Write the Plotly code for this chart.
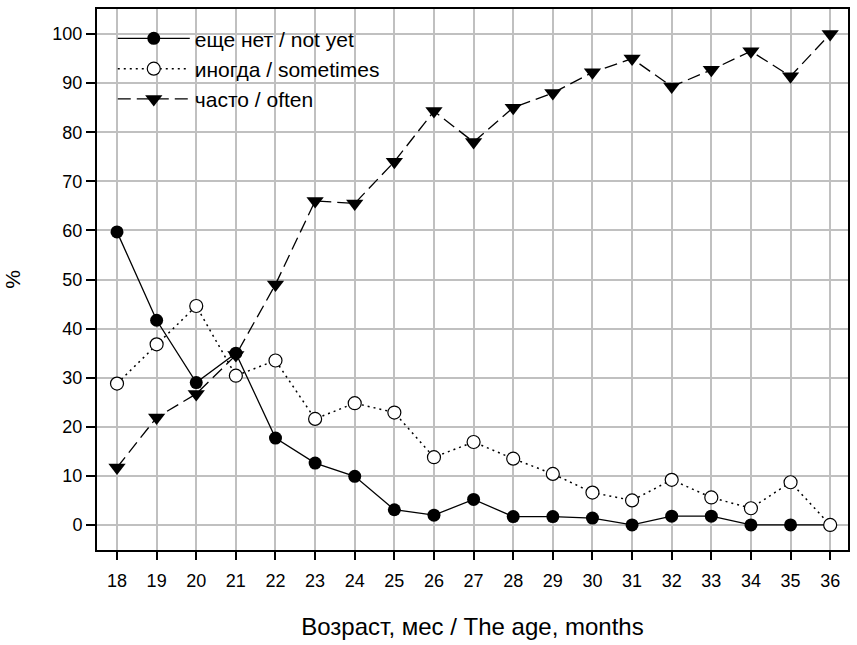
import plotly.graph_objects as go

months = list(range(18, 37))
not_yet = [59.7, 41.7, 29.0, 35.0, 17.7, 12.6, 9.9, 3.1, 2.0, 5.2, 1.7, 1.7, 1.4, 0.0, 1.8, 1.8, 0.0, 0.0, 0.0]
sometimes = [28.8, 36.8, 44.6, 30.4, 33.5, 21.6, 24.8, 22.9, 13.8, 16.9, 13.5, 10.4, 6.6, 5.0, 9.2, 5.6, 3.4, 8.7, 0.0]
often = [11.7, 21.9, 26.7, 34.6, 49.0, 66.0, 65.5, 74.0, 84.3, 78.0, 85.0, 88.0, 92.2, 95.0, 89.3, 92.7, 96.5, 91.4, 100.0]

names = ["еще нет / not yet", "иногда / sometimes", "часто / often"]
ytick_vals = list(range(0, 101, 10))

fig = go.Figure()
fig.add_trace(go.Scatter(
    x=months, y=often, name=names[2], mode="lines+markers", legendrank=3,
    line=dict(color="black", width=1.3, dash="13px,6px"),
    marker=dict(symbol="triangle-down", size=15, color="black"),
))
fig.add_trace(go.Scatter(
    x=months, y=not_yet, name=names[0], mode="lines+markers", legendrank=1,
    line=dict(color="black", width=1.3),
    marker=dict(symbol="circle", size=13, color="black"),
))
fig.add_trace(go.Scatter(
    x=months, y=sometimes, name=names[1], mode="lines+markers", legendrank=2,
    line=dict(color="black", width=1.5, dash="2px,4px"),
    marker=dict(symbol="circle", size=13, color="white", line=dict(color="black", width=1.2)),
))

font = "Liberation Sans, Arial, sans-serif"
fig.update_layout(
    width=857, height=645,
    margin=dict(l=97, r=8, t=7, b=95),
    paper_bgcolor="white", plot_bgcolor="white",
    font=dict(family=font, color="black", size=18),
    showlegend=True,
    legend=dict(
        x=0.021, y=0.983, xanchor="left", yanchor="top",
        bgcolor="rgba(0,0,0,0)", itemwidth=72,
        font=dict(size=21, family=font), tracegroupgap=0,
        itemsizing="trace",
    ),
    xaxis=dict(
        range=[17.495, 36.45], tickmode="array", tickvals=months,
        ticktext=[str(m) for m in months],
        showgrid=True, gridcolor="#c0c0c0", gridwidth=2,
        showline=True, linecolor="black", linewidth=2, mirror=True,
        ticks="outside", ticklen=8, tickwidth=1.5, tickcolor="black",
        tickfont=dict(size=18), zeroline=False, ticklabelstandoff=5,
        title=dict(text="Возраст, мес / The age, months", font=dict(size=24), standoff=29),
    ),
    yaxis=dict(
        range=[-5.1, 105.1], tickmode="array", tickvals=ytick_vals,
        showgrid=True, gridcolor="#c0c0c0", gridwidth=2,
        showline=True, linecolor="black", linewidth=2, mirror=True,
        ticks="outside", ticklen=9, tickwidth=1.5, tickcolor="black",
        tickfont=dict(size=18), zeroline=False,
        title=dict(text="%", font=dict(size=21), standoff=26),
    ),
)

fig.write_html("out.html", config={"displayModeBar": False},
               post_script="document.body.style.margin='0';")
